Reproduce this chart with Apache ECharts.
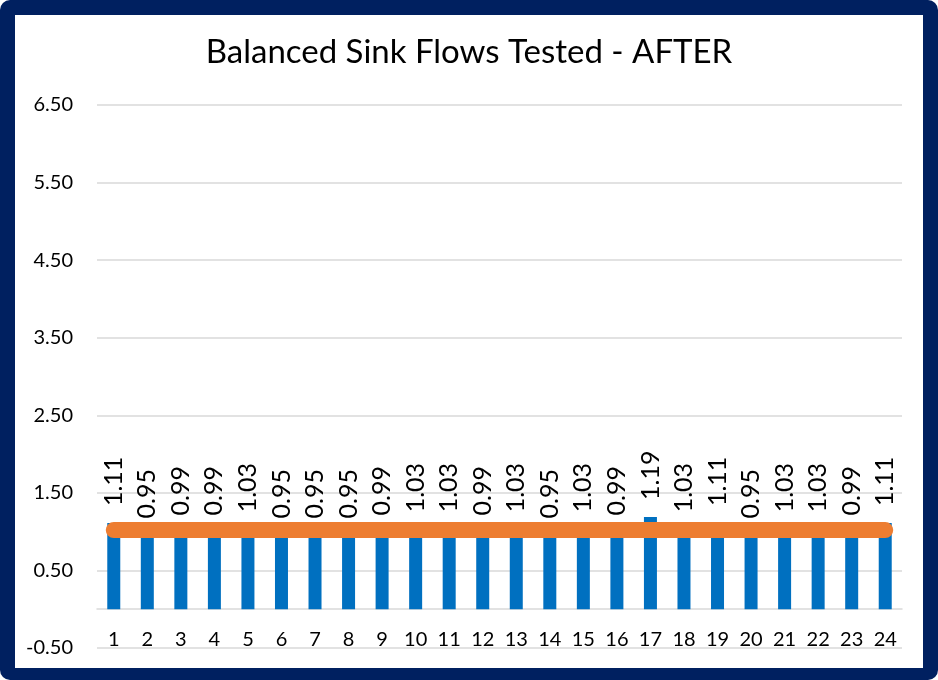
<!DOCTYPE html>
<html><head><meta charset="utf-8">
<script src="https://cdn.jsdelivr.net/npm/echarts@6/dist/echarts.min.js"></script>
<style>
html,body{margin:0;padding:0;background:#fff;}
#frame{position:absolute;left:0;top:0;width:938px;height:680px;background:#002060;border-radius:10px;}
#chart{position:absolute;left:15px;top:15px;width:908px;height:653px;background:#fff;}
</style></head>
<body>
<div id="frame"></div>
<div id="chart"></div>
<script>
const categories = ['1','2','3','4','5','6','7','8','9','10','11','12','13','14','15','16','17','18','19','20','21','22','23','24'];
const flows = [1.11,0.95,0.99,0.99,1.03,0.95,0.95,0.95,0.99,1.03,1.03,0.99,1.03,0.95,1.03,0.99,1.19,1.03,1.11,0.95,1.03,1.03,0.99,1.11];
const averageLine = [1.02,1.02,1.02,1.02,1.02,1.02,1.02,1.02,1.02,1.02,1.02,1.02,1.02,1.02,1.02,1.02,1.02,1.02,1.02,1.02,1.02,1.02,1.02,1.02];
const titleText = 'Balanced Sink Flows Tested - AFTER';

const chart = echarts.init(document.getElementById('chart'));
const font = 'Lato, "Open Sans", sans-serif';
chart.setOption({
  animation: false,
  title: {
    text: titleText, left: 'center', top: 16,
    textStyle: {fontFamily: font, fontSize: 33, fontWeight: 'normal', color: '#000'}
  },
  grid: {left: 82, right: 21, top: 90, bottom: 20, containLabel: false, outerBoundsMode: 'none'},
  xAxis: {
    type: 'category', data: categories,
    axisLine: {show: true, onZero: true, lineStyle: {color: '#D9D9D9', width: 1.5}},
    axisTick: {show: false},
    axisLabel: {fontFamily: font, fontSize: 20, color: '#000', margin: -18}
  },
  yAxis: {
    type: 'value', min: -0.5, max: 6.5, interval: 1,
    axisLine: {show: false}, axisTick: {show: false},
    axisLabel: {fontFamily: font, fontSize: 20, color: '#000', margin: 24,
      formatter: v => v.toFixed(2)},
    splitLine: {lineStyle: {color: '#D9D9D9', width: 1.5}}
  },
  series: [
    {
      type: 'bar', data: flows, barWidth: 13,
      itemStyle: {color: '#0070C0'},
      label: {show: true, position: 'top', rotate: 90, align: 'left', verticalAlign: 'middle',
        distance: 17, fontFamily: font, fontSize: 25, color: '#000',
        formatter: p => p.value.toFixed(2)}
    },
    {
      type: 'line', data: averageLine, symbol: 'none', z: 5,
      lineStyle: {color: '#ED7D31', width: 16, cap: 'round'}
    }
  ]
});
</script>
</body></html>
